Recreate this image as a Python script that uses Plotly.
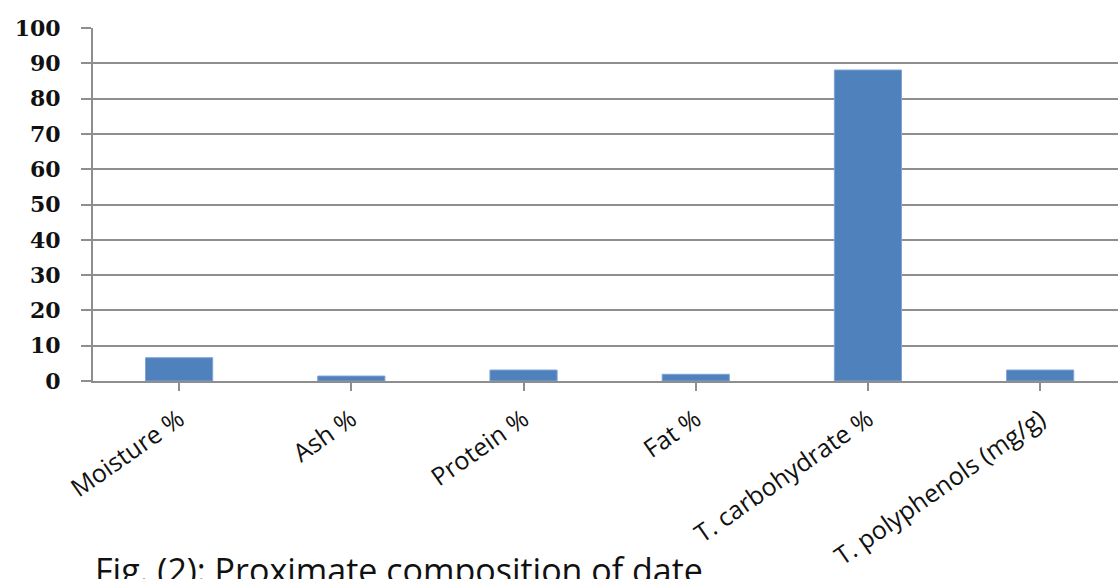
import plotly.graph_objects as go

categories = ["Moisture %", "Ash %", "Protein %", "Fat %", "T. carbohydrate %", "T. polyphenols (mg/g)"]
values = [6.6, 1.4, 3.1, 1.9, 88.1, 3.1]
y_ticks = [0, 10, 20, 30, 40, 50, 60, 70, 80, 90, 100]

fig = go.Figure(
    go.Bar(
        x=list(range(len(categories))),
        y=values,
        width=0.39,
        marker=dict(color="#4F81BD", line=dict(color="#7FA3D4", width=1)),
    )
)

grid = "#8E8E8E"

fig.update_layout(
    width=1118,
    height=579,
    margin=dict(l=93, r=0, t=28, b=198),
    paper_bgcolor="white",
    plot_bgcolor="white",
    showlegend=False,
    xaxis=dict(
        range=[-0.5, 5.452],
        tickmode="array",
        tickvals=list(range(len(categories))),
        ticktext=categories,
        tickangle=-35,
        tickson="boundaries",
        ticks="outside",
        ticklen=8,
        tickwidth=2,
        tickcolor=grid,
        showline=True,
        linecolor=grid,
        linewidth=2,
        showgrid=False,
        zeroline=False,
        automargin=False,
        tickfont=dict(family="Open Sans", size=25, color="#111111"),
        ticklabelstandoff=4,
    ),
    yaxis=dict(
        range=[0, 100],
        tickmode="array",
        tickvals=y_ticks,
        ticks="outside",
        ticklen=10,
        tickwidth=2,
        tickcolor=grid,
        showline=True,
        linecolor=grid,
        linewidth=2,
        showgrid=True,
        gridcolor=grid,
        gridwidth=2,
        zeroline=False,
        automargin=False,
        tickfont=dict(family="DejaVu Serif", size=22, color="#111111", weight="bold"),
        ticklabelstandoff=16,
    ),
    annotations=[
        dict(
            text="Fig. (2): Proximate composition of date",
            xref="paper",
            yref="paper",
            x=0.0,
            y=(381 - 545) / 353,
            xanchor="left",
            yanchor="top",
            showarrow=False,
            font=dict(family="Open Sans", size=34, color="#111111"),
        )
    ],
)

fig.write_html("out.html")
